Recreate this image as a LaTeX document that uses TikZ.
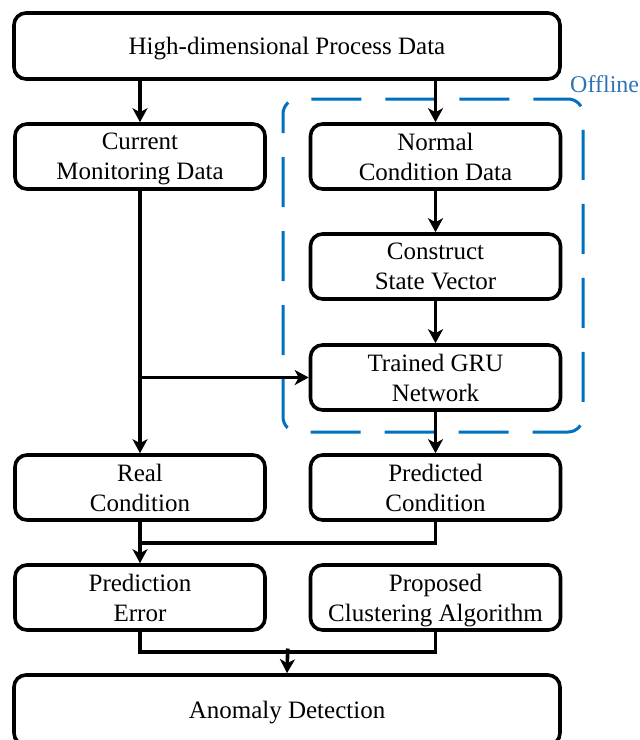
\documentclass[tikz,border=0pt]{standalone}
\usepackage{fontspec}
\setmainfont{Liberation Serif}
\usetikzlibrary{arrows.meta}
\definecolor{offblue}{RGB}{0,112,192}
\definecolor{offtext}{RGB}{46,117,182}
\tikzset{
  box/.style={draw=black, line width=3.6pt, rounded corners=12pt, minimum width=250pt, minimum height=65pt, align=center, inner sep=0pt, text depth=0pt, font=\fontsize{25}{30}\selectfont},
  wide/.style={box, minimum width=546pt, minimum height=66pt},
  arr/.style={line width=3.6pt, -{Stealth[length=14pt,width=15pt,inset=4pt]}},
  ln/.style={line width=3.6pt},
  offbox/.style={draw=offblue, line width=3pt, rounded corners=15pt, dash pattern=on 50pt off 24pt, dash phase=26pt}
}
\begin{document}
\begin{tikzpicture}[x=1pt,y=-1pt]
\useasboundingbox (0,0) rectangle (640,740);
\node[wide] (top) at (287,46) {High-dimensional Process Data};
\node[box] (cur) at (140,156.5) {Current\\Monitoring Data};
\node[box] (norm) at (435.5,156.5) {Normal\\Condition Data};
\node[box] (cons) at (435.5,266.5) {Construct\\State Vector};
\node[box] (gru) at (435.5,377.5) {Trained GRU\\Network};
\node[box] (real) at (140,487.5) {Real\\Condition};
\node[box] (pred) at (435.5,487.5) {Predicted\\Condition};
\node[box] (err) at (140,597.5) {Prediction\\Error};
\node[box] (clus) at (435.5,597.5) {Proposed\\Clustering Algorithm};
\node[wide, minimum height=70pt] (anom) at (287,710) {Anomaly Detection};
% offline region
\draw[offbox] (283,140) -- (283,99) -- (583,99) -- (583,432) -- (283,432) -- cycle;
\node[text=offtext, anchor=west, inner sep=0pt, font=\fontsize{24}{28}\selectfont] (off) at (570,84) {Offline};
% connectors
\draw[arr] (cur.north |- top.south) -- (cur.north);
\draw[arr] (norm.north |- top.south) -- (norm.north);
\draw[arr] (norm.south) -- (cons.north);
\draw[arr] (cons.south) -- (gru.north);
\draw[arr] (gru.south) -- (pred.north);
\draw[arr] (cur.south) -- (real.north);
\coordinate (br) at (cur.south |- gru.west);
\draw[arr] (br) -- (gru.west);
\draw[ln] (real.south) -- ++(0,21) -| (pred.south);
\coordinate (j1) at (140,539);
\draw[arr] (j1) -- (err.north);
\draw[ln] (err.south) -- ++(0,20) -| (clus.south);
\coordinate (j2) at (287.75,648.5);
\draw[arr] (j2) -- (anom.north);
\end{tikzpicture}
\end{document}
